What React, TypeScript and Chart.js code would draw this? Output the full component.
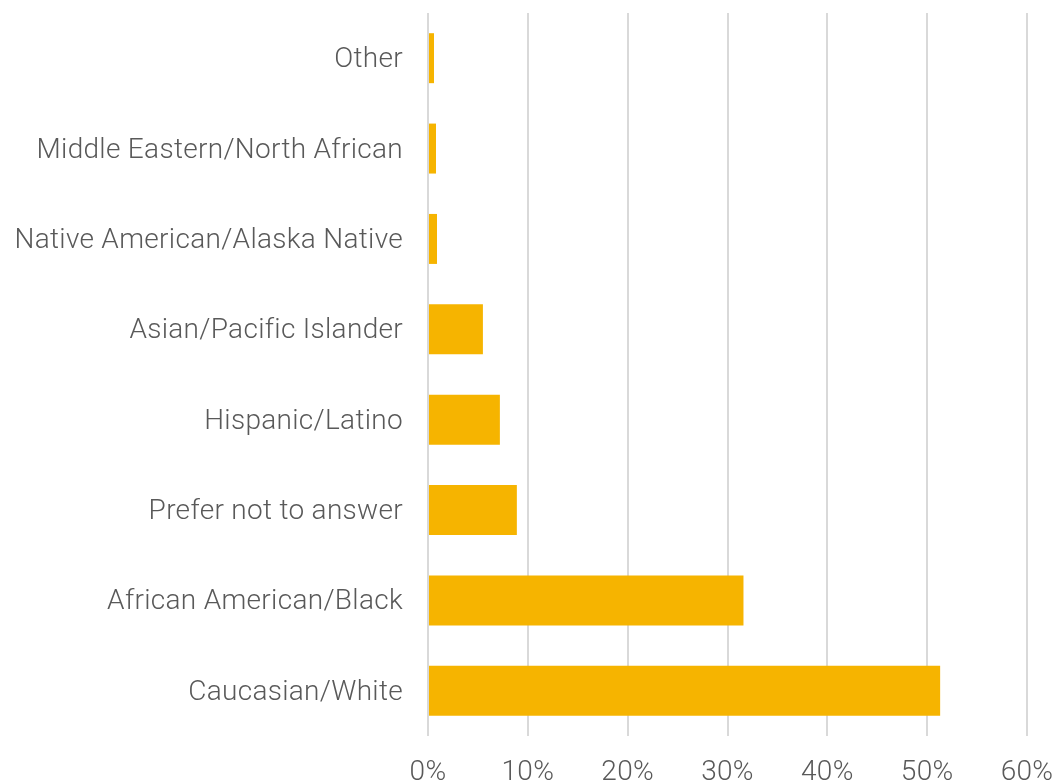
import React, { useEffect, useRef } from "react";
import { Chart, registerables } from "chart.js";

Chart.register(...registerables);

const categories = [
  "Other",
  "Middle Eastern/North African",
  "Native American/Alaska Native",
  "Asian/Pacific Islander",
  "Hispanic/Latino",
  "Prefer not to answer",
  "African American/Black",
  "Caucasian/White",
];
const shares = [0.6, 0.8, 0.9, 5.5, 7.2, 8.9, 31.6, 51.3];
const xTicks = [0, 10, 20, 30, 40, 50, 60];

const spacingPlugin = {
  id: "spacing",
  beforeUpdate: (chart: any) => {
    chart.ctx.letterSpacing = "0.3px";
  },
  beforeDraw: (chart: any) => {
    chart.ctx.letterSpacing = "0.3px";
  },
};

export default function App() {
  const ref = useRef<HTMLCanvasElement | null>(null);
  useEffect(() => {
    if (!ref.current) return;
    const font = { family: "Roboto", size: 28, weight: 300 as any };
    const chart = new Chart(ref.current, {
      type: "bar",
      data: {
        labels: categories,
        datasets: [
          {
            data: shares,
            backgroundColor: "#F6B400",
            borderWidth: 0,
            barPercentage: 0.553,
            categoryPercentage: 1,
          },
        ],
      },
      plugins: [spacingPlugin],
      options: {
        indexAxis: "y",
        animation: false,
        responsive: false,
        maintainAspectRatio: false,
        layout: { padding: { top: 13, right: 29, left: 0, bottom: 0 } },
        plugins: { legend: { display: false }, tooltip: { enabled: false } },
        scales: {
          x: {
            min: 0,
            max: 60,
            afterBuildTicks: (s: any) => {
              s.ticks = xTicks.map((v) => ({ value: v }));
            },
            afterFit: (s: any) => {
              s.height = 47;
              s.paddingLeft = 0;
              s.paddingRight = 0;
            },
            ticks: {
              font,
              color: "#595959",
              padding: 20,
              maxRotation: 0,
              callback: (v: any) => v + "%",
            },
            grid: { color: "#d9d9d9", lineWidth: 2, drawTicks: false },
            border: { display: false },
          },
          y: {
            afterFit: (s: any) => {
              s.width = 428;
              s.paddingTop = 0;
              s.paddingBottom = 0;
            },
            ticks: { font, color: "#595959", padding: 17, labelOffset: 2 },
            grid: { display: false },
            border: { display: false },
          },
        },
      },
    });
    return () => chart.destroy();
  }, []);
  return (
    <div style={{ position: "fixed", left: 0, top: 0, width: 1056, height: 783, background: "#fff" }}>
      <canvas ref={ref} width={1056} height={783} style={{ display: "block" }} />
    </div>
  );
}
